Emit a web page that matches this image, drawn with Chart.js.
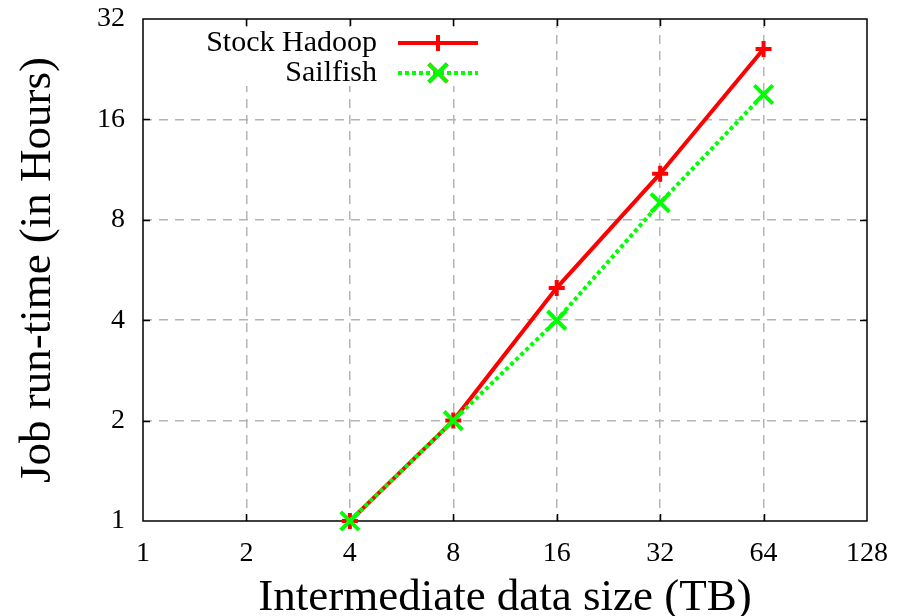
<!DOCTYPE html>
<html>
<head>
<meta charset="utf-8">
<script src="https://cdn.jsdelivr.net/npm/chart.js@4/dist/chart.umd.min.js"></script>
<style>
  html, body { margin: 0; padding: 0; background: #fff; }
  #wrap { width: 908px; height: 616px; }
</style>
</head>
<body>
<div id="wrap"><canvas id="myChart" width="908" height="616"></canvas></div>
<script>
// data sizes in TB, run-times in hours
var sizes = [4, 8, 16, 32, 64];
var hadoopHours = [1, 2, 5, 11, 26];
var sailfishHours = [1, 2, 4, 9, 19];
var xTicks = [1, 2, 4, 8, 16, 32, 64, 128];
var yTicks = [1, 2, 4, 8, 16, 32];

var serif = '"Liberation Serif", "Times New Roman", serif';

function points(ys) {
  return sizes.map(function(s, i) { return { x: s, y: ys[i] }; });
}

// grey dashed grid, but not on the frame edges
function gridColor(c) {
  var n = c.scale.ticks.length;
  return (c.index === 0 || c.index === n - 1) ? 'rgba(0,0,0,0)' : '#b4b4b4';
}

// keep the tick labels from pushing the plot area around
function noPadding(scale) {
  scale.paddingTop = 0;
  scale.paddingBottom = 0;
  scale.paddingLeft = 0;
  scale.paddingRight = 0;
}

// frame, inward ticks on all four sides, and the key box in the top left
var framePlugin = {
  id: 'frame',
  beforeDatasetsDraw: function(chart) {
    var ctx = chart.ctx, a = chart.chartArea;
    var xs = chart.scales.x, ys = chart.scales.y;
    ctx.save();
    ctx.fillStyle = '#fff';
    ctx.fillRect(a.left + 1, a.top + 8, 355, 59);
    ctx.strokeStyle = '#000';
    ctx.lineWidth = 1.5;
    ctx.strokeRect(a.left, a.top, a.right - a.left, a.bottom - a.top);
    ctx.beginPath();
    xTicks.slice(1, -1).forEach(function(v) {
      var px = Math.round(xs.getPixelForValue(v)) + 0.5;
      ctx.moveTo(px, a.bottom); ctx.lineTo(px, a.bottom - 7);
      ctx.moveTo(px, a.top); ctx.lineTo(px, a.top + 7);
    });
    yTicks.slice(1, -1).forEach(function(v) {
      var py = Math.round(ys.getPixelForValue(v)) + 0.5;
      ctx.moveTo(a.left, py); ctx.lineTo(a.left + 7, py);
      ctx.moveTo(a.right, py); ctx.lineTo(a.right - 7, py);
    });
    ctx.stroke();
    ctx.restore();
  },
  afterDatasetsDraw: function(chart) {
    var ctx = chart.ctx;
    ctx.save();
    ctx.font = '30px ' + serif;
    ctx.textAlign = 'right';
    ctx.textBaseline = 'middle';
    ctx.fillStyle = '#000';
    chart.data.datasets.forEach(function(ds, i) {
      var y = 43 + i * 30;
      ctx.fillText(ds.label, 377, y);
      ctx.save();
      ctx.strokeStyle = ds.borderColor;
      ctx.lineWidth = ds.borderWidth;
      ctx.setLineDash(ds.borderDash || []);
      ctx.beginPath();
      ctx.moveTo(398, y); ctx.lineTo(478, y);
      ctx.stroke();
      ctx.restore();
      Chart.helpers.drawPoint(ctx, {
        pointStyle: ds.pointStyle,
        radius: ds.pointRadius,
        borderWidth: ds.pointBorderWidth,
        rotation: 0
      }, 438, y);
      ctx.strokeStyle = ds.borderColor;
      ctx.lineWidth = ds.pointBorderWidth;
      ctx.stroke();
    });
    ctx.restore();
  }
};

var ctx = document.getElementById('myChart');
var myChart = new Chart(ctx, {
  type: 'line',
  data: {
    datasets: [
      {
        label: 'Stock Hadoop',
        data: points(hadoopHours),
        order: 1,
        borderColor: '#ff0000',
        backgroundColor: '#ff0000',
        borderWidth: 4,
        pointStyle: 'cross',
        pointRadius: 8,
        pointBorderWidth: 4,
        pointBorderColor: '#ff0000',
        clip: false
      },
      {
        label: 'Sailfish',
        data: points(sailfishHours),
        order: 0,
        borderColor: '#00ff00',
        backgroundColor: '#00ff00',
        borderWidth: 4,
        borderDash: [4, 3],
        pointStyle: 'crossRot',
        pointRadius: 13,
        pointBorderWidth: 4,
        pointBorderColor: '#00ff00',
        clip: false
      }
    ]
  },
  options: {
    responsive: false,
    animation: false,
    layout: { padding: { top: 19, right: 41, left: 0, bottom: 0 } },
    plugins: {
      legend: { display: false },
      tooltip: { enabled: false }
    },
    elements: { line: { tension: 0 } },
    scales: {
      x: {
        type: 'logarithmic',
        min: 1,
        max: 128,
        afterBuildTicks: function(scale) {
          scale.ticks = xTicks.map(function(v) { return { value: v }; });
        },
        afterFit: function(scale) { scale.height = 95; noPadding(scale); },
        grid: { color: gridColor, lineWidth: 1.5, drawTicks: false },
        border: { display: false, dash: [9, 7] },
        ticks: {
          autoSkip: false,
          maxRotation: 0,
          padding: 16,
          color: '#000',
          font: { family: serif, size: 28 },
          callback: function(value) { return String(value); }
        },
        title: {
          display: true,
          text: 'Intermediate data size (TB)',
          color: '#000',
          font: { family: serif, size: 45, lineHeight: 0.8 },
          padding: { top: 0, bottom: 0 }
        }
      },
      y: {
        type: 'logarithmic',
        min: 1,
        max: 32,
        afterBuildTicks: function(scale) {
          scale.ticks = yTicks.map(function(v) { return { value: v }; });
        },
        afterFit: function(scale) { scale.width = 143; noPadding(scale); },
        grid: { color: gridColor, lineWidth: 1.5, drawTicks: false },
        border: { display: false, dash: [9, 7] },
        ticks: {
          autoSkip: false,
          padding: 18,
          color: '#000',
          font: { family: serif, size: 28 },
          callback: function(value) { return String(value); }
        },
        title: {
          display: true,
          text: 'Job run-time (in Hours)',
          color: '#000',
          font: { family: serif, size: 45, lineHeight: 0.8 },
          padding: { top: 20, bottom: 0 }
        }
      }
    }
  },
  plugins: [framePlugin]
});
</script>
</body>
</html>
